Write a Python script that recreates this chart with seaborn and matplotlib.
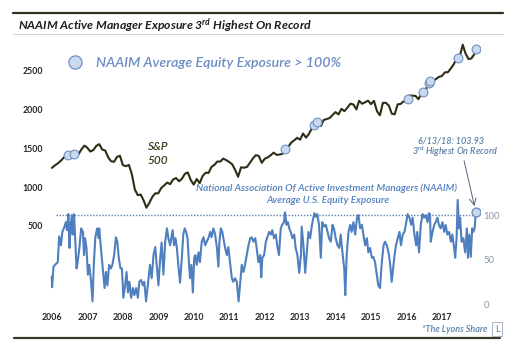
import matplotlib
matplotlib.use('Agg')
import matplotlib.pyplot as plt
from matplotlib.lines import Line2D
import seaborn as sns
import pandas as pd
import numpy as np

# S&P 500 month-end closes, Jun 2006 .. May 2018, then the 6/13/18 close
sp500 = [
    1245, 1277, 1304, 1336, 1378, 1401, 1418,
    1438, 1407, 1421, 1482, 1531, 1503, 1455, 1474, 1527, 1549, 1481, 1468,
    1379, 1331, 1323, 1386, 1400, 1280, 1267, 1283, 1166, 969, 896, 903,
    826, 735, 798, 873, 919, 919, 987, 1021, 1057, 1036, 1096, 1115,
    1074, 1104, 1169, 1187, 1089, 1031, 1102, 1049, 1141, 1183, 1181, 1258,
    1286, 1327, 1326, 1364, 1345, 1321, 1292, 1219, 1131, 1253, 1247, 1258,
    1312, 1366, 1408, 1398, 1310, 1362, 1379, 1407, 1441, 1412, 1416, 1426,
    1498, 1515, 1569, 1598, 1631, 1606, 1686, 1633, 1682, 1757, 1806, 1848,
    1783, 1859, 1872, 1884, 1924, 1960, 1931, 2003, 1972, 2018, 2068, 2059,
    1995, 2105, 2068, 2086, 2107, 2063, 2104, 1972, 1920, 2079, 2080, 2044,
    1940, 1932, 2060, 2065, 2097, 2099, 2174, 2171, 2168, 2126, 2199, 2239,
    2279, 2364, 2363, 2384, 2412, 2423, 2470, 2472, 2519, 2575, 2648, 2674,
    2824, 2714, 2641, 2648, 2705, 2775,
]

# NAAIM exposure index (decimal year, % exposure)
naaim_year = [
    2006.49, 2006.50, 2006.54, 2006.58, 2006.66, 2006.70, 2006.75, 2006.79, 2006.85, 2006.89,
    2006.92, 2006.96, 2006.99, 2007.02, 2007.06, 2007.08, 2007.12, 2007.15, 2007.19, 2007.22,
    2007.27, 2007.32, 2007.37, 2007.40, 2007.43, 2007.47, 2007.51, 2007.55, 2007.60, 2007.64,
    2007.68, 2007.72, 2007.77, 2007.81, 2007.83, 2007.87, 2007.92, 2007.98, 2008.02, 2008.06,
    2008.11, 2008.16, 2008.20, 2008.25, 2008.30, 2008.34, 2008.38, 2008.43, 2008.47, 2008.51,
    2008.56, 2008.60, 2008.64, 2008.68, 2008.73, 2008.78, 2008.82, 2008.87, 2008.92, 2008.96,
    2009.01, 2009.06, 2009.10, 2009.15, 2009.20, 2009.24, 2009.26, 2009.31, 2009.36, 2009.41,
    2009.45, 2009.50, 2009.55, 2009.59, 2009.64, 2009.69, 2009.74, 2009.78, 2009.83, 2009.88,
    2009.90, 2009.94, 2009.98, 2010.02, 2010.06, 2010.11, 2010.16, 2010.20, 2010.24, 2010.28,
    2010.32, 2010.36, 2010.39, 2010.43, 2010.47, 2010.51, 2010.54, 2010.58, 2010.63, 2010.67,
    2010.72, 2010.77, 2010.82, 2010.86, 2010.91, 2010.96, 2011.00, 2011.05, 2011.10, 2011.15,
    2011.19, 2011.22, 2011.26, 2011.30, 2011.33, 2011.38, 2011.43, 2011.47, 2011.52, 2011.57,
    2011.61, 2011.66, 2011.71, 2011.76, 2011.80, 2011.85, 2011.90, 2011.94, 2011.99, 2012.04,
    2012.09, 2012.13, 2012.18, 2012.23, 2012.27, 2012.32, 2012.37, 2012.40, 2012.43, 2012.48,
    2012.53, 2012.57, 2012.62, 2012.67, 2012.71, 2012.76, 2012.81, 2012.86, 2012.90, 2012.95,
    2012.99, 2013.04, 2013.07, 2013.11, 2013.15, 2013.19, 2013.23, 2013.28, 2013.33, 2013.37,
    2013.42, 2013.47, 2013.52, 2013.54, 2013.59, 2013.64, 2013.68, 2013.73, 2013.78, 2013.83,
    2013.87, 2013.90, 2013.94, 2013.98, 2014.03, 2014.08, 2014.12, 2014.17, 2014.22, 2014.27,
    2014.31, 2014.36, 2014.41, 2014.45, 2014.50, 2014.55, 2014.60, 2014.64, 2014.69, 2014.74,
    2014.77, 2014.81, 2014.86, 2014.91, 2014.95, 2015.00, 2015.05, 2015.10, 2015.14, 2015.19,
    2015.24, 2015.28, 2015.33, 2015.38, 2015.42, 2015.47, 2015.52, 2015.56, 2015.61, 2015.66,
    2015.70, 2015.75, 2015.80, 2015.85, 2015.89, 2015.94, 2015.99, 2016.03, 2016.08, 2016.11,
    2016.16, 2016.20, 2016.25, 2016.30, 2016.34, 2016.39, 2016.44, 2016.49, 2016.53, 2016.58,
    2016.63, 2016.67, 2016.72, 2016.77, 2016.80, 2016.85, 2016.90, 2016.95, 2016.99, 2017.04,
    2017.09, 2017.13, 2017.16, 2017.18, 2017.23, 2017.28, 2017.32, 2017.37, 2017.41, 2017.46,
    2017.51, 2017.56, 2017.60, 2017.65, 2017.70, 2017.75, 2017.79, 2017.84, 2017.87, 2017.91,
    2017.94, 2017.98, 2018.01, 2018.05, 2018.10, 2018.15, 2018.20, 2018.23, 2018.27, 2018.31,
    2018.35, 2018.38, 2018.42, 2018.45,
]
naaim_pct = [
    31, 19, 42, 44, 47, 76, 66, 81, 87, 92,
    83, 101, 63, 89, 100, 78, 101, 75, 40, 47,
    63, 85, 81, 55, 74, 63, 33, 44, 25, 3,
    47, 75, 85, 74, 85, 66, 44, 18, 36, 21,
    44, 40, 44, 55, 75, 70, 52, 40, 40, 7,
    21, 36, 13, 25, 7, 18, 10, 18, 7, 25,
    27, 21, 25, 3, 21, 36, 44, 29, 55, 64,
    44, 21, 52, 69, 33, 70, 85, 74, 66, 78,
    83, 66, 74, 63, 44, 24, 52, 78, 85, 81,
    74, 47, 29, 44, 13, 52, 55, 44, 58, 47,
    70, 75, 66, 70, 74, 81, 75, 85, 78, 63,
    42, 70, 85, 81, 74, 63, 55, 64, 47, 29,
    25, 29, 25, 3, 21, 44, 36, 44, 55, 66,
    74, 75, 70, 74, 63, 47, 55, 30, 52, 55,
    70, 75, 81, 78, 83, 74, 78, 63, 55, 85,
    89, 92, 103, 89, 92, 85, 81, 74, 78, 63,
    55, 35, 55, 87, 66, 35, 55, 81, 74, 89,
    97, 102, 98, 101, 89, 52, 92, 87, 89, 81,
    74, 70, 89, 85, 74, 66, 63, 78, 58, 40,
    10, 55, 81, 89, 81, 92, 78, 97, 100, 85,
    89, 78, 66, 74, 58, 63, 52, 53, 47, 33,
    21, 18, 47, 66, 70, 66, 58, 47, 25, 36,
    55, 66, 74, 81, 66, 78, 81, 92, 101, 97,
    89, 97, 78, 66, 81, 58, 89, 101, 97, 100,
    92, 102, 101, 70, 81, 89, 92, 97, 89, 85,
    92, 81, 89, 78, 81, 70, 78, 63, 52, 74,
    117, 85, 97, 70, 74, 58, 85, 52, 78, 53,
    85, 81, 85, 103.93,
]

year_labels = [str(y) for y in range(2006, 2018)]
sp_ticks = [500, 1000, 1500, 2000, 2500]
naaim_ticks = [0, 50, 100]

W, H = 517, 352


def fx(px):
    return px / W


def fy(py):
    return 1 - py / H


def to_year(dates):
    return dates.year + (dates.dayofyear - 0.5) / 365.25


sp_dates = pd.date_range('2006-06-30', '2018-05-31', freq='ME').append(pd.DatetimeIndex(['2018-06-13']))
sp_df = pd.DataFrame({'year': to_year(sp_dates), 'close': sp500})
naaim_df = pd.DataFrame({'year': naaim_year, 'exposure': naaim_pct})

sns.set_theme(style='white')
plt.rcParams['font.family'] = ['Lato', 'DejaVu Sans']
plt.rcParams['mathtext.fontset'] = 'custom'
plt.rcParams['mathtext.it'] = 'Lato:italic:semibold'
plt.rcParams['mathtext.rm'] = 'Lato'
plt.rcParams['mathtext.bf'] = 'Lato:italic:bold'

sp_color = '#2e2e16'
naaim_color = '#4f7fbf'
note_color = '#5b7fa8'
dot_face = '#c9daf0'
dot_edge = '#6f90c0'

fig = plt.figure(figsize=(W / 100, H / 100), dpi=100)
ax1 = fig.add_axes([fx(45), fy(305), fx(480) - fx(45), fy(40) - fy(305)])
ax2 = ax1.twinx()

sns.lineplot(data=sp_df, x='year', y='close', ax=ax1, color=sp_color, lw=1.5)
sns.lineplot(data=naaim_df, x='year', y='exposure', ax=ax2, color=naaim_color, lw=1.5)

# circles on the S&P wherever NAAIM exposure tops 100%
hits = naaim_df[naaim_df['exposure'] > 100]
hit_sp = np.interp(hits['year'], sp_df['year'], sp_df['close'])
sns.scatterplot(x=hits['year'].values, y=hit_sp, ax=ax1, s=40, color=dot_face,
                edgecolor=dot_edge, linewidth=0.8, zorder=5)
sns.scatterplot(x=[naaim_year[-1]], y=[naaim_pct[-1]], ax=ax2, s=40, color=dot_face,
                edgecolor=dot_edge, linewidth=1.0, zorder=5)

ax2.hlines(100, 2006.61, 2018.52, colors='#5f7fae', linestyles=(0, (1, 1.2)), lw=1.0)

ax1.set_xlim(2006.30, 2018.57)
ax1.set_ylim(-513, 2885)
ax2.set_ylim(-1.1, 296.6)

ax1.set_xticks([y + 0.5 for y in range(2006, 2018)])
ax1.set_xticklabels(year_labels, fontsize=6.3, fontweight='bold', color='#262626')
ax1.set_yticks(sp_ticks)
ax1.set_yticklabels([str(v) for v in sp_ticks], fontsize=6.3, fontweight='bold', color='#262626')
ax2.set_yticks(naaim_ticks)
ax2.set_yticklabels([str(v) for v in naaim_ticks], fontsize=6.8, color='#8796ab')
ax1.tick_params(axis='x', length=0, pad=6)
ax1.tick_params(axis='y', length=0, pad=1.5)
ax2.tick_params(axis='y', length=0, pad=2.5)
for ax in (ax1, ax2):
    ax.set_xlabel('')
    ax.set_ylabel('')
    ax.grid(False)
    for s in ax.spines.values():
        s.set_visible(False)

# frame and title
fig.add_artist(Line2D([fx(13), fx(503)], [fy(13), fy(13)], color='#2f2f1c', lw=1.6))
fig.add_artist(Line2D([fx(13), fx(503)], [fy(34), fy(34)], color='#d4d4d4', lw=0.8))
fig.add_artist(Line2D([fx(14), fx(500)], [fy(338), fy(338)], color='#3a3a22', lw=1.6))
fig.text(fx(18), fy(25), r'NAAIM Active Manager Exposure 3$^{\mathbf{rd}}$ Highest On Record',
         fontsize=8.8, fontweight='bold', fontstyle='italic', color='#1f1f1f', va='center')

legend_dot = Line2D([], [], marker='o', ls='none', ms=9.5, markerfacecolor=dot_face,
                    markeredgecolor=dot_edge, markeredgewidth=0.9)
ax1.legend(handles=[legend_dot], labels=['NAAIM Average Equity Exposure > 100%'],
           loc='center left', bbox_to_anchor=(fx(61), fy(63)), bbox_transform=fig.transFigure,
           frameon=False, borderpad=0, borderaxespad=0, handletextpad=0.5,
           prop={'size': 10.2, 'style': 'italic', 'weight': 'semibold'}, labelcolor='#6b8dc4')

fig.text(fx(158), fy(147), 'S&P', fontsize=8.5, fontstyle='italic', fontweight='semibold',
         color='#3a3a1e', ha='center', va='center')
fig.text(fx(158), fy(160), '500', fontsize=8.5, fontstyle='italic', fontweight='semibold',
         color='#3a3a1e', ha='center', va='center')

fig.text(fx(327), fy(188), 'National Association Of Active Investment Managers (NAAIM)',
         fontsize=7.2, fontstyle='italic', fontweight='semibold', color=naaim_color,
         ha='center', va='center')
fig.text(fx(328), fy(200), 'Average U.S. Equity Exposure',
         fontsize=7.2, fontstyle='italic', fontweight='semibold', color=naaim_color,
         ha='center', va='center')

fig.text(fx(451), fy(141), '6/13/18: 103.93', fontsize=6.5, fontstyle='italic',
         fontweight='semibold', color=note_color, ha='center', va='center')
fig.text(fx(455), fy(152), r'3$^{rd}$ Highest On Record', fontsize=6.5, fontstyle='italic',
         fontweight='semibold', color=note_color, ha='center', va='center')
ax2.annotate('', xy=(naaim_year[-1], naaim_pct[-1]), xytext=(2018.12, 161),
             arrowprops=dict(arrowstyle='->', color='#4f6680', lw=0.7, shrinkA=0, shrinkB=4))

fig.text(fx(487), fy(329), '*The Lyons Share', fontsize=6.5, fontstyle='italic',
         fontweight='semibold', color=note_color, ha='right', va='center')
fig.text(fx(497), fy(329), 'L', fontsize=6.5, color='#6d7f99', ha='center', va='center',
         bbox=dict(boxstyle='square,pad=0.25', fc='white', ec='#9aaac0', lw=0.6))

fig.savefig('out.png', dpi=100, facecolor='white')
